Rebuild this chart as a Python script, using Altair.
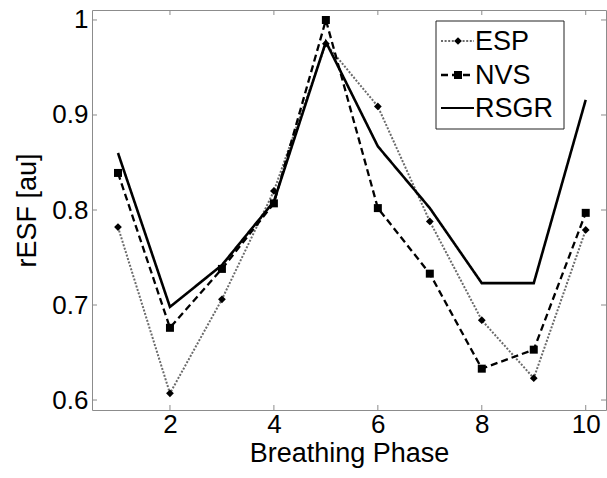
import altair as alt
import pandas as pd

# ---- data ----
phase = [1, 2, 3, 4, 5, 6, 7, 8, 9, 10]
esp = [0.782, 0.607, 0.706, 0.820, 0.975, 0.909, 0.788, 0.684, 0.623, 0.779]
nvs = [0.839, 0.676, 0.738, 0.807, 1.000, 0.802, 0.733, 0.633, 0.653, 0.797]
rsgr = [0.860, 0.698, 0.742, 0.809, 0.977, 0.867, 0.802, 0.723, 0.723, 0.916]
series_names = ["ESP", "NVS", "RSGR"]
x_ticks = [2, 4, 6, 8, 10]
y_ticks = [0.6, 0.7, 0.8, 0.9, 1.0]

rows = []
for name, vals in zip(series_names, [esp, nvs, rsgr]):
    for p, v in zip(phase, vals):
        rows.append({"phase": p, "value": v, "series": name})
df = pd.DataFrame(rows)

W, H = 514, 400
FONT = "Liberation Sans"
AX = "#8c8c8c"

xscale = alt.Scale(domain=[0.5, 10.39], nice=False, zero=False)
yscale = alt.Scale(domain=[0.5895, 1.0105], nice=False, zero=False)

xaxis = alt.Axis(values=x_ticks, ticks=False, domain=False, grid=False,
                 labelFontSize=26, labelPadding=1, labelColor="black", labelFont=FONT,
                 title="Breathing Phase", titleFontSize=27, titleFontWeight="normal",
                 titleFont=FONT, titleColor="black", titlePadding=3)
yaxis = alt.Axis(values=y_ticks, ticks=False, domain=False, grid=False, format=".1~f",
                 labelFontSize=26, labelPadding=4, labelColor="black", labelFont=FONT,
                 title="rESF [au]", titleFontSize=27, titleFontWeight="normal",
                 titleFont=FONT, titleColor="black", titlePadding=10)

dash_range = [[2, 1.6], [7, 4], [1, 0]]
lines = alt.Chart(df).mark_line().encode(
    x=alt.X("phase:Q", scale=xscale, axis=xaxis),
    y=alt.Y("value:Q", scale=yscale, axis=yaxis),
    color=alt.Color("series:N", scale=alt.Scale(domain=series_names, range=["#6a6a6a", "black", "black"]), legend=None),
    strokeDash=alt.StrokeDash("series:N", scale=alt.Scale(domain=series_names, range=dash_range), legend=None),
    strokeWidth=alt.StrokeWidth("series:N", scale=alt.Scale(domain=series_names, range=[2, 2.6, 2]), legend=None),
)

points = alt.Chart(df).transform_filter(alt.datum.series != "RSGR").mark_point(
    filled=True, opacity=1, color="black"
).encode(
    x=alt.X("phase:Q", scale=xscale),
    y=alt.Y("value:Q", scale=yscale),
    shape=alt.Shape("series:N", scale=alt.Scale(domain=["ESP", "NVS"], range=["diamond", "square"]), legend=None),
    size=alt.Size("series:N", scale=alt.Scale(domain=["ESP", "NVS"], range=[60, 64]), legend=None),
)

# inward ticks
xt = pd.DataFrame({"t": x_ticks})
yt = pd.DataFrame({"t": y_ticks})
tick_style = dict(color=AX, strokeWidth=1)
xb = alt.Chart(xt).mark_rule(**tick_style).encode(x=alt.X("t:Q", scale=xscale), y=alt.value(H), y2=alt.value(H - 5))
xtop = alt.Chart(xt).mark_rule(**tick_style).encode(x=alt.X("t:Q", scale=xscale), y=alt.value(0), y2=alt.value(5))
yl = alt.Chart(yt).mark_rule(**tick_style).encode(y=alt.Y("t:Q", scale=yscale), x=alt.value(0), x2=alt.value(5))
yr = alt.Chart(yt).mark_rule(**tick_style).encode(y=alt.Y("t:Q", scale=yscale), x=alt.value(W), x2=alt.value(W - 5))

# legend (drawn manually, MATLAB style)
one = pd.DataFrame({"a": [0]})
lx0, lx1, ly0, ly1 = 344, 472, 11, 119
box = alt.Chart(one).mark_rect(fill="white", stroke="#222", strokeWidth=1).encode(
    x=alt.value(lx0), x2=alt.value(lx1), y=alt.value(ly0), y2=alt.value(ly1))
leg_layers = [box]
leg_y = [31, 65, 98]
leg_col = ["#6a6a6a", "black", "black"]
leg_w = [2, 2.6, 2]
leg_shape = ["diamond", "square", None]
leg_size = [60, 64, 0]
for i, name in enumerate(series_names):
    leg_layers.append(alt.Chart(one).mark_rule(color=leg_col[i], strokeDash=dash_range[i], strokeWidth=leg_w[i]).encode(
        x=alt.value(349), x2=alt.value(382), y=alt.value(leg_y[i])))
    if leg_shape[i]:
        leg_layers.append(alt.Chart(one).mark_point(filled=True, opacity=1, color="black", shape=leg_shape[i], size=leg_size[i]).encode(
            x=alt.value(366), y=alt.value(leg_y[i])))
    leg_layers.append(alt.Chart(pd.DataFrame({"label": [name]})).mark_text(
        align="left", baseline="middle", fontSize=27, font=FONT, color="black", dy=1).encode(
        x=alt.value(383), y=alt.value(leg_y[i]), text="label:N"))

chart = alt.layer(xb, xtop, yl, yr, lines, points, *leg_layers).properties(
    width=W, height=H,
    autosize=alt.AutoSizeParams(type="none"),
    padding={"left": 92, "top": 10, "right": 1, "bottom": 68},
    background="white",
).configure_view(stroke=AX, strokeWidth=1)

chart.save("out.html", embed_options={"renderer": "svg", "actions": False})
